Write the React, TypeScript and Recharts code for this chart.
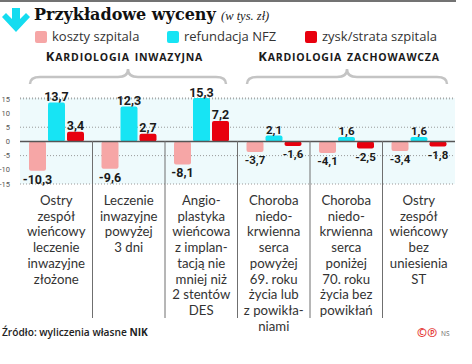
import { BarChart, Bar, XAxis, YAxis, CartesianGrid, ReferenceLine, LabelList } from 'recharts';

const categories = [
  'Ostry|zespół|wieńcowy|leczenie|inwazyjne|złożone',
  'Leczenie|inwazyjne|powyżej|3 dni',
  'Angio-|plastyka|wieńcowa|z implan-|tacją nie|mniej niż|2 stentów|DES',
  'Choroba|niedo-|krwienna|serca|powyżej|69. roku|życia lub|z powikła-|niami',
  'Choroba|niedo-|krwienna|serca|poniżej|70. roku|życia bez|powikłań',
  'Ostry|zespół|wieńcowy|bez|uniesienia|ST',
];
const koszty = [-10.3, -9.6, -8.1, -3.7, -4.1, -3.4];
const refundacja = [13.7, 12.3, 15.3, 2.1, 1.6, 1.6];
const zysk = [3.4, 2.7, 7.2, -1.6, -2.5, -1.8];
const yTicks = [-15, -10, -5, 0, 5, 10, 15];

const data = categories.map((name, i) => ({
  name,
  koszty: koszty[i],
  refundacja: refundacja[i],
  zysk: zysk[i],
}));

const PINK = '#f6a6a6';
const CYAN = '#17e4f4';
const RED = '#e8000e';
const SANS = '"Open Sans", "Noto Sans", sans-serif';
const LATO = 'Lato, "Open Sans", sans-serif';
const NARROW = '"Liberation Sans Narrow", "Roboto", sans-serif';

const W = 472;
const H = 364;
const PLOT_TOP = 98;
const PLOT_H = 86;
const PLOT_W = 435;

const fmt = (v: number) => String(v).replace('.', ',');

const ValueLabel = (props: any) => {
  const { x, y, width, height, value, index } = props;
  const top = Math.min(y, y + height);
  const bottom = Math.max(y, y + height);
  const cx = x + width / 2;
  const size = index < 3 ? 12.5 : 11.5;
  const ty = value >= 0 ? top - 1.5 : bottom + 4 + size * 0.72;
  return (
    <text x={cx} y={ty} textAnchor="middle" fontFamily={NARROW} fontWeight={700} fontSize={size} fill="#1a1a1a">
      {fmt(value)}
    </text>
  );
};

const CategoryTick = (props: any) => {
  const { x, y, payload, index } = props;
  const lines = String(payload.value).split('|');
  const half = payload.offset || PLOT_W / categories.length / 2;
  return (
    <g>
      {index > 0 && (
        <line x1={x - half} x2={x - half} y1={y - PLOT_H / 2} y2={318} stroke="#6f6f6f" strokeWidth={1} />
      )}
      {lines.map((l, i) => (
        <text key={i} x={x} y={y + 21 + i * 15.7} textAnchor="middle" fontFamily={LATO} fontSize={13.2} fill="#333">
          {l}
        </text>
      ))}
    </g>
  );
};

const brace = (x1: number, x2: number) => {
  const m = (x1 + x2) / 2;
  return `M${x1} 84 Q${x1} 77 ${x1 + 10} 77 L${m - 10} 77 Q${m} 77 ${m} 69 Q${m} 77 ${m + 10} 77 L${x2 - 10} 77 Q${x2} 77 ${x2} 84`;
};

const legend = [
  { label: 'koszty szpitala', color: PINK, x: 35 },
  { label: 'refundacja NFZ', color: CYAN, x: 167 },
  { label: 'zysk/strata szpitala', color: RED, x: 305 },
];

const Header = ({ text, cx }: { text: string; cx: number }) => {
  const words = text.split(' ');
  return (
    <text x={cx} y={61} textAnchor="middle" fontFamily={SANS} fontWeight={700} fill="#1a1a1a" letterSpacing={0.8}>
      {words.map((w, i) => (
        <tspan key={i}>
          {i > 0 ? ' ' : ''}
          {i === 0 ? <tspan fontSize={13}>{w[0]}</tspan> : null}
          <tspan fontSize={10.5}>{(i === 0 ? w.slice(1) : w).toUpperCase()}</tspan>
        </tspan>
      ))}
    </text>
  );
};

export default function App() {
  return (
    <div style={{ position: 'absolute', left: 0, top: 0, width: W, height: H, background: '#fff' }}>
      <svg width={W} height={H} style={{ position: 'absolute', left: 0, top: 0 }}>
        <line x1={0} x2={456} y1={1} y2={1} stroke="#444" strokeWidth={1.5} />
        <path d="M12 8 H20 V19 L26 13 L30 17 L16 32 L2 17 L6 13 L12 19 Z" fill="#14dcf0" />
        <text x={34} y={20} fontFamily='"DejaVu Serif", serif' fontWeight={700} fontSize={16} fill="#111">
          Przykładowe wyceny
        </text>
        <text x={221} y={20} fontFamily='"Liberation Serif", serif' fontStyle="italic" fontSize={12.5} fill="#222">
          (w tys. zł)
        </text>
        {legend.map((l) => (
          <g key={l.label}>
            <rect x={l.x} y={31} width={12} height={12} rx={2} fill={l.color} />
            <text x={l.x + 17} y={41} fontFamily={SANS} fontSize={13} fill="#333">
              {l.label}
            </text>
          </g>
        ))}
        <Header text="Kardiologia inwazyjna" cx={124.5} />
        <Header text="Kardiologia zachowawcza" cx={349} />
        <path d={brace(30, 226)} fill="none" stroke="#c4c4c4" strokeWidth={2.5} />
        <path d={brace(247, 447)} fill="none" stroke="#c4c4c4" strokeWidth={2.5} />
        <text x={2} y={336} fontFamily={SANS} fontWeight={600} fontSize={10.2} fill="#222">
          Źródło: wyliczenia własne <tspan fontWeight={700}>NIK</tspan>
        </text>
        <text x={417} y={337} fontFamily={SANS} fontWeight={700} fontSize={12} fill="#e53935">
          ©℗
        </text>
        <text x={441} y={336} fontFamily={SANS} fontSize={6.5} fill="#666">
          NS
        </text>
      </svg>
      <div style={{ position: 'absolute', left: 0, top: 0 }}>
        <BarChart
          width={W}
          height={H}
          data={data}
          margin={{ top: PLOT_TOP, right: W - 20 - PLOT_W, bottom: 0, left: 0 }}
          barSize={17}
          barGap={2}
        >
          <CartesianGrid vertical={false} strokeDasharray="1 2" stroke="#999" fill="#eefafc" fillOpacity={1} />
          <XAxis
            dataKey="name"
            height={H - PLOT_TOP - PLOT_H}
            axisLine={false}
            tickLine={false}
            tickSize={0}
            tickMargin={0}
            interval={0}
            tick={<CategoryTick />}
          />
          <YAxis
            width={20}
            domain={[-15, 15]}
            ticks={yTicks}
            axisLine={false}
            tickLine={false}
            tickMargin={4}
            tick={{ fontSize: 7.5, fill: '#555', fontFamily: NARROW }}
          />
          <ReferenceLine y={0} stroke="#555" strokeWidth={1.5} />
          <Bar dataKey="koszty" fill={PINK} radius={2} isAnimationActive={false}>
            <LabelList dataKey="koszty" content={<ValueLabel />} />
          </Bar>
          <Bar dataKey="refundacja" fill={CYAN} radius={2} isAnimationActive={false}>
            <LabelList dataKey="refundacja" content={<ValueLabel />} />
          </Bar>
          <Bar dataKey="zysk" fill={RED} radius={2} isAnimationActive={false}>
            <LabelList dataKey="zysk" content={<ValueLabel />} />
          </Bar>
        </BarChart>
      </div>
    </div>
  );
}
